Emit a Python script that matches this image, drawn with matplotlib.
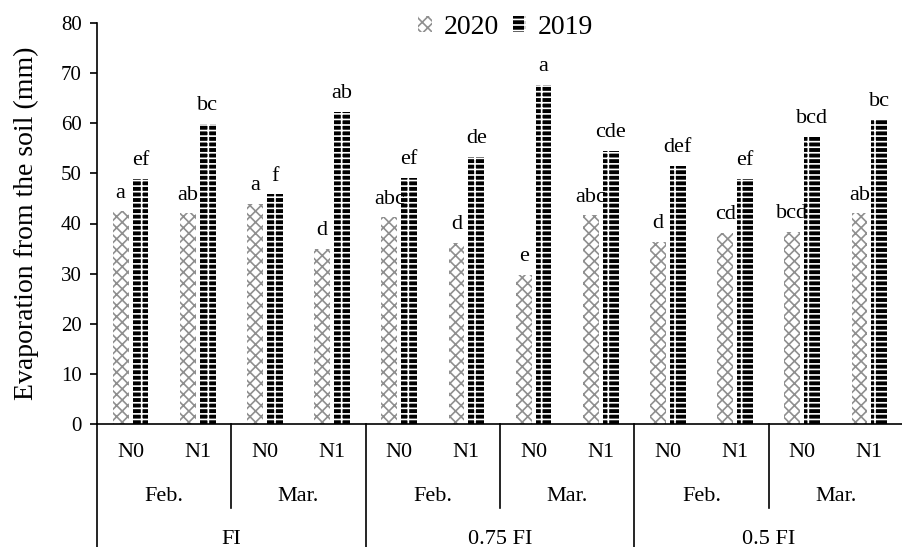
import numpy as np
import matplotlib
matplotlib.use("Agg")
import matplotlib.pyplot as plt
from matplotlib.patches import Patch
from matplotlib.lines import Line2D

plt.rcParams['font.family'] = ['Liberation Serif', 'DejaVu Serif']
plt.rcParams['hatch.linewidth'] = 1.2

# treatment levels (outer -> inner)
irrigation = ['FI', '0.75 FI', '0.5 FI']
months = ['Feb.', 'Mar.']
nitrogen = ['N0', 'N1']

# soil evaporation (mm) per treatment, same order as the category axis
evap_2020 = [42.4, 42.0, 43.9, 34.9, 41.2, 36.2, 29.7, 41.6, 36.4, 38.1, 38.4, 42.0]
evap_2019 = [48.9, 59.8, 45.8, 62.2, 49.0, 53.2, 67.7, 54.5, 51.5, 48.9, 57.2, 60.6]

# mean separation letters
letters_2020 = ['a', 'ab', 'a', 'd', 'abc', 'd', 'e', 'abc', 'd', 'cd', 'bcd', 'ab']
letters_2019 = ['ef', 'bc', 'f', 'ab', 'ef', 'de', 'a', 'cde', 'def', 'ef', 'bcd', 'bc']

n = len(evap_2020)
x = np.arange(n)
w = 0.235
off = 0.148

fig = plt.figure(figsize=(9.03, 5.47), dpi=100)
ax = fig.add_axes([97 / 903, 1 - 424 / 547, 806 / 903, 401 / 547])

style20 = dict(facecolor='white', edgecolor='#8f8f8f', hatch='xxx', linewidth=0)
style19 = dict(facecolor='black', edgecolor='white', hatch='---|', linewidth=0)

b20 = ax.bar(x - off, evap_2020, w, **style20)
b19 = ax.bar(x + off, evap_2019, w, **style19)

for xi, v, s in zip(x - off, evap_2020, letters_2020):
    ax.annotate(s, (xi, v), xytext=(0, 10), textcoords='offset points',
                ha='center', va='baseline', fontsize=16)
for xi, v, s in zip(x + off, evap_2019, letters_2019):
    ax.annotate(s, (xi, v), xytext=(0, 10), textcoords='offset points',
                ha='center', va='baseline', fontsize=16)

ax.set_xlim(-0.5, n - 0.5)
ax.set_ylim(0, 80)
ax.set_yticks(range(0, 81, 10))
ax.tick_params(axis='y', labelsize=15, length=5, width=1.2, pad=6)
ax.set_xticks([])
for s in ['top', 'right']:
    ax.spines[s].set_visible(False)
for s in ['left', 'bottom']:
    ax.spines[s].set_linewidth(1.2)
ax.set_ylabel('Evaporation from the soil (mm)', fontsize=20, labelpad=16)

# multi-level category axis
tr = ax.get_xaxis_transform()
y_n, y_m, y_i = -0.07, -0.18, -0.287
y_bot, y_mid = -0.31, -0.21
for i in range(n):
    ax.text(x[i], y_n, nitrogen[i % 2], transform=tr, ha='center', va='center', fontsize=16)
for j in range(n // 2):
    ax.text(2 * j + 0.5, y_m, months[j % 2], transform=tr, ha='center', va='center', fontsize=16)
for k in range(n // 4):
    ax.text(4 * k + 1.5, y_i, irrigation[k], transform=tr, ha='center', va='center', fontsize=16)

def vline(xd, y1):
    ax.add_line(Line2D([xd, xd], [0, y1], transform=tr, color='black',
                       linewidth=1.2, clip_on=False))

for k in range(n // 4 + 1):
    vline(4 * k - 0.5, y_bot)
for j in range(n // 2):
    if j % 2 == 1:
        vline(2 * j - 0.5, y_mid)

handles = [Patch(**style20), Patch(**style19)]
ax.legend(handles, ['2020', '2019'], loc='center', bbox_to_anchor=(0.507, 0.99),
          ncol=2, frameon=False, fontsize=20, handlelength=0.5, handleheight=0.5,
          handletextpad=0.4, columnspacing=0.5)

fig.savefig('out.png', dpi=100)
